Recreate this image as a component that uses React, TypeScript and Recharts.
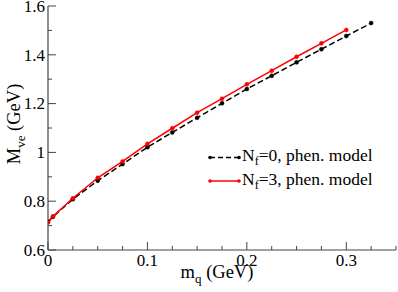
import React from "react";
import { LineChart, Line, XAxis, YAxis } from "recharts";

const FONT = "'Liberation Serif', 'DejaVu Serif', serif";
const FRAME = "#444";

// quark mass m_q (GeV)
const mqNf0 = [0, 0.005, 0.025, 0.05, 0.075, 0.1, 0.125, 0.15, 0.175, 0.2, 0.225, 0.25, 0.275, 0.3, 0.325];
const mveNf0 = [0.716, 0.736, 0.808, 0.884, 0.952, 1.021, 1.082, 1.142, 1.201, 1.26, 1.314, 1.369, 1.423, 1.477, 1.53];

const mqNf3 = [0, 0.005, 0.025, 0.05, 0.075, 0.1, 0.125, 0.15, 0.175, 0.2, 0.225, 0.25, 0.275, 0.3];
const mveNf3 = [0.713, 0.738, 0.812, 0.896, 0.963, 1.035, 1.099, 1.163, 1.22, 1.279, 1.335, 1.392, 1.447, 1.502];

const xTicks = [0, 0.025, 0.05, 0.075, 0.1, 0.125, 0.15, 0.175, 0.2, 0.225, 0.25, 0.275, 0.3, 0.325, 0.35];
const yTicks = [0.6, 0.7, 0.8, 0.9, 1, 1.1, 1.2, 1.3, 1.4, 1.5, 1.6];

const nf0 = mqNf0.map((x, i) => ({ x, y: mveNf0[i] }));
const nf3 = mqNf3.map((x, i) => ({ x, y: mveNf3[i] }));

const fmt = (v: number) => String(Number(v.toFixed(3)));
const isMajorX = (v: number) => Math.abs(v * 10 - Math.round(v * 10)) < 1e-6;
const isMajorY = (v: number) => Math.abs(v * 5 - Math.round(v * 5)) < 1e-6;

const txt = (size: number) => ({ fontFamily: FONT, fontSize: size });

function BottomTick({ x, y, payload }: any) {
  const major = isMajorX(payload.value);
  return (
    <g>
      <line x1={x} x2={x} y1={y} y2={y - (major ? 8 : 4)} stroke={FRAME} />
      {major && (
        <text x={x} y={y + 15.5} textAnchor="middle" style={txt(17)} fill="#000">
          {fmt(payload.value)}
        </text>
      )}
    </g>
  );
}

function TopTick({ x, y, payload }: any) {
  const major = isMajorX(payload.value);
  return <line x1={x} x2={x} y1={y} y2={y + (major ? 8 : 4)} stroke={FRAME} />;
}

function LeftTick({ x, y, payload }: any) {
  const major = isMajorY(payload.value);
  return (
    <g>
      <line x1={x} x2={x + (major ? 8 : 4)} y1={y} y2={y} stroke={FRAME} />
      {major && (
        <text x={x - 3} y={y + 5.7} textAnchor="end" style={txt(17)} fill="#000">
          {fmt(payload.value)}
        </text>
      )}
    </g>
  );
}

function RightTick({ x, y, payload }: any) {
  const major = isMajorY(payload.value);
  return <line x1={x} x2={x - (major ? 8 : 4)} y1={y} y2={y} stroke={FRAME} />;
}

function XTitle({ viewBox }: any) {
  const { x, y, width } = viewBox;
  return (
    <text x={x + width / 2 - 5} y={y + 28} textAnchor="middle" style={txt(18.5)} fill="#000">
      m<tspan style={{ fontSize: 13 }} dy={5}>q</tspan>
      <tspan dy={-5}>{"\u00a0(GeV)"}</tspan>
    </text>
  );
}

function YTitle() {
  const cx = 20;
  const cy = 124;
  return (
    <text x={cx} y={cy} transform={`rotate(-90 ${cx} ${cy})`} textAnchor="middle" style={txt(18.5)} fill="#000">
      M<tspan style={{ fontSize: 13 }} dy={5}>ve</tspan>
      <tspan dy={-5}>{"\u00a0(GeV)"}</tspan>
    </text>
  );
}

function LegendBox() {
  const rows = [
    { y: 157.5, color: "#000", dash: "5 3", label: "=0, phen. model" },
    { y: 181, color: "#ff0000", dash: undefined, label: "=3, phen. model" },
  ];
  return (
    <svg width={398} height={292} style={{ position: "absolute", left: 0, top: 0, pointerEvents: "none" }}>
      {rows.map((r) => (
        <g key={r.label}>
          <line x1={210} x2={239} y1={r.y} y2={r.y} stroke={r.color} strokeWidth={1.5} strokeDasharray={r.dash} />
          <circle cx={210} cy={r.y} r={1.8} fill={r.color} />
          <circle cx={239} cy={r.y} r={1.8} fill={r.color} />
          <text x={242} y={r.y + 3.5} style={txt(17.5)} fill="#000">
            N<tspan style={{ fontSize: 12 }} dy={4}>f</tspan>
            <tspan dy={-4}>{r.label}</tspan>
          </text>
        </g>
      ))}
    </svg>
  );
}

export default function App() {
  return (
    <div style={{ position: "absolute", left: 0, top: 0, width: 398, height: 292, background: "#fff" }}>
      <LineChart width={398} height={292} margin={{ top: 6, right: 2, bottom: 0, left: 0 }}>
        <XAxis
          xAxisId="main"
          dataKey="x"
          type="number"
          domain={[0, 0.35]}
          ticks={xTicks}
          interval={0}
          height={42}
          tickSize={0}
          tickMargin={0}
          tick={<BottomTick />}
          axisLine={{ stroke: FRAME, strokeWidth: 1.2 }}
          allowDataOverflow
          label={<XTitle />}
        />
        <XAxis
          xAxisId="top"
          orientation="top"
          dataKey="x"
          type="number"
          domain={[0, 0.35]}
          ticks={xTicks}
          interval={0}
          height={0}
          tickSize={0}
          tickMargin={0}
          tick={<TopTick />}
          axisLine={{ stroke: FRAME, strokeWidth: 1.2 }}
          allowDataOverflow
        />
        <YAxis
          yAxisId="main"
          type="number"
          domain={[0.6, 1.6]}
          ticks={yTicks}
          interval={0}
          width={48}
          tickSize={0}
          tickMargin={0}
          tick={<LeftTick />}
          axisLine={{ stroke: FRAME, strokeWidth: 1.2 }}
          allowDataOverflow
          label={<YTitle />}
        />
        <YAxis
          yAxisId="right"
          orientation="right"
          type="number"
          domain={[0.6, 1.6]}
          ticks={yTicks}
          interval={0}
          width={0}
          tickSize={0}
          tickMargin={0}
          tick={<RightTick />}
          axisLine={{ stroke: FRAME, strokeWidth: 1.2 }}
          allowDataOverflow
        />
        <Line
          xAxisId="main"
          yAxisId="main"
          data={nf0}
          dataKey="y"
          type="linear"
          stroke="#000"
          strokeWidth={1.5}
          strokeDasharray="6 3"
          dot={{ r: 2, fill: "#000", stroke: "#000", strokeWidth: 0.5, strokeDasharray: "" }}
          isAnimationActive={false}
        />
        <Line
          xAxisId="main"
          yAxisId="main"
          data={nf3}
          dataKey="y"
          type="linear"
          stroke="#ff0000"
          strokeWidth={1.5}
          dot={{ r: 2, fill: "#ff0000", stroke: "#ff0000", strokeWidth: 0.5 }}
          isAnimationActive={false}
        />
      </LineChart>
      <LegendBox />
    </div>
  );
}
